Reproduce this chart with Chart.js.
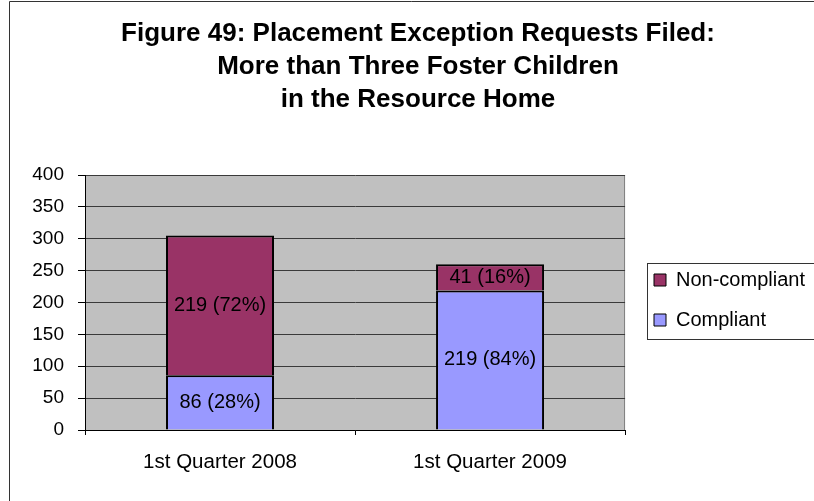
<!DOCTYPE html>
<html><head><meta charset="utf-8">
<script src="https://cdn.jsdelivr.net/npm/chart.js@4"></script>
<style>html,body{margin:0;padding:0;background:#fff;overflow:hidden}canvas{display:block}</style>
</head><body>
<canvas id="c" width="814" height="501"></canvas>
<script>
const categories = ['1st Quarter 2008', '1st Quarter 2009'];
const compliant = [86, 219];
const nonCompliant = [219, 41];
const seriesNames = ['Compliant', 'Non-compliant'];
const yMin = 0, yMax = 400, yStep = 50;
const titleLines = ['Figure 49: Placement Exception Requests Filed:', 'More than Three Foster Children', 'in the Resource Home'];

const FONT = "'Liberation Sans', Arial, Helvetica, sans-serif";

const decor = {
  id: 'decor',
  beforeDraw(chart) {
    const {ctx, chartArea: a} = chart;
    ctx.save();
    ctx.fillStyle = '#fff';
    ctx.fillRect(0, 0, chart.width, chart.height);
    ctx.fillStyle = '#C0C0C0';
    ctx.fillRect(a.left, a.top, a.right - a.left, a.bottom - a.top);
    ctx.strokeStyle = '#808080';
    ctx.lineWidth = 1;
    ctx.beginPath();
    ctx.moveTo(a.right - 0.5, a.top);
    ctx.lineTo(a.right - 0.5, a.bottom);
    ctx.stroke();
    ctx.strokeStyle = '#333';
    ctx.beginPath();
    ctx.moveTo(9.5, chart.height);
    ctx.lineTo(9.5, 1.5);
    ctx.lineTo(chart.width, 1.5);
    ctx.stroke();
    ctx.restore();
  },
  afterLayout(chart) {
    const lg = chart.legend;
    if (!lg) return;
    const pad = lg.options.labels.padding;
    const w = lg.width;
    lg.left = 654 - pad;
    lg.right = lg.left + w;
    lg.top = 200;
    lg.bottom = 400;
    lg.height = lg.bottom - lg.top;
  },
  afterDatasetsDraw(chart) {
    const {ctx} = chart;
    ctx.save();
    ctx.font = '20px ' + FONT;
    ctx.fillStyle = '#000';
    ctx.textAlign = 'center';
    ctx.textBaseline = 'middle';
    chart.data.datasets.forEach((ds, di) => {
      const meta = chart.getDatasetMeta(di);
      meta.data.forEach((bar, i) => {
        const total = chart.data.datasets.reduce((s, d) => s + d.data[i], 0);
        const v = ds.data[i];
        const txt = v + ' (' + Math.round(v / total * 100) + '%)';
        const p = bar.getCenterPoint();
        ctx.fillText(txt, p.x, p.y);
      });
    });
    ctx.restore();
  },
  afterDraw(chart) {
    const {ctx} = chart;
    ctx.save();
    ctx.strokeStyle = '#333';
    ctx.lineWidth = 1;
    ctx.strokeRect(647.5, 263.5, 300, 76);
    ctx.restore();
  }
};

new Chart(document.getElementById('c'), {
  type: 'bar',
  data: {
    labels: categories,
    datasets: [
      { label: seriesNames[0], data: compliant, backgroundColor: '#9999FF', borderColor: '#000', borderWidth: 2 },
      { label: seriesNames[1], data: nonCompliant, backgroundColor: '#993366', borderColor: '#000', borderWidth: 2 }
    ]
  },
  options: {
    responsive: false,
    animation: false,
    devicePixelRatio: 1,
    categoryPercentage: 1.0,
    barPercentage: 0.4,
    layout: { padding: { left: 30, right: 8, top: 0, bottom: 0 } },
    plugins: {
      title: {
        display: true,
        text: titleLines,
        color: '#000',
        font: { family: FONT, size: 26, weight: 'bold', lineHeight: 33 / 26 },
        padding: { top: 17.5, bottom: 58.5 }
      },
      legend: {
        position: 'right',
        reverse: true,
        labels: {
          color: '#000',
          font: { family: FONT, size: 20 },
          boxWidth: 12,
          boxHeight: 12,
          padding: 20,
          generateLabels(chart) {
            const items = Chart.defaults.plugins.legend.labels.generateLabels(chart);
            items.forEach(it => { it.lineWidth = 1; });
            return items;
          }
        }
      },
      tooltip: { enabled: false }
    },
    scales: {
      x: {
        stacked: true,
        grid: { display: true, drawOnChartArea: false, drawTicks: true, tickLength: 5, color: '#000', tickColor: '#000', offset: true },
        border: { display: true, color: '#000', width: 1, z: 1 },
        ticks: { color: '#000', font: { family: FONT, size: 20.5 }, padding: 15, maxRotation: 0 },
        afterFit(s) { s.height = 71; }
      },
      y: {
        stacked: true,
        min: yMin,
        max: yMax,
        grid: { color: '#3a3a3a', tickColor: '#000', tickLength: 7, lineWidth: 1 },
        border: { display: true, color: '#000', width: 1, z: 1 },
        ticks: { stepSize: yStep, color: '#000', font: { family: FONT, size: 19 }, padding: 14 },
        afterFit(s) { s.width = 55; }
      }
    }
  },
  plugins: [decor]
});
</script>
</body></html>
